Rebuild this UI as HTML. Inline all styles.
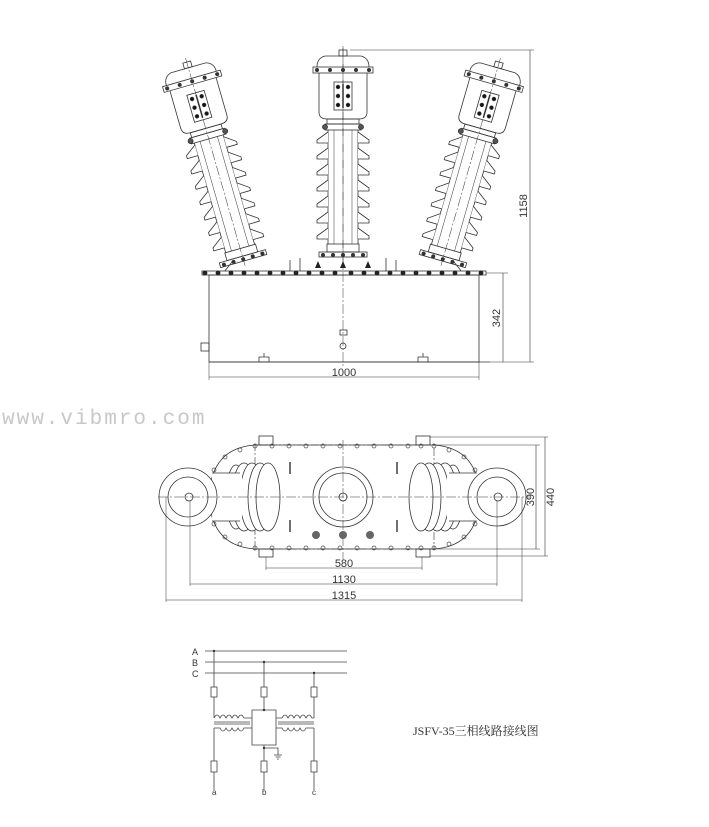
<!DOCTYPE html>
<html><head><meta charset="utf-8"><style>
html,body{margin:0;padding:0;background:#fff;width:709px;height:827px;overflow:hidden}
svg{display:block}
text{font-family:"Liberation Sans",sans-serif;fill:#333}
</style></head><body>
<svg width="709" height="827" viewBox="0 0 709 827" xmlns="http://www.w3.org/2000/svg">
<defs>
<g id="ins" fill="none" stroke="#333" stroke-width="0.8">
  <rect x="-24" y="-6" width="48" height="5" fill="#fff"/>
  <g fill="#333"><circle cx="-20" cy="-3" r="1.6"/><circle cx="-10" cy="-3" r="1.6"/><circle cx="0" cy="-3" r="1.6"/><circle cx="10" cy="-3" r="1.6"/><circle cx="20" cy="-3" r="1.6"/></g>
  <rect x="-16" y="-14" width="32" height="8"/>
  <path d="M-15,-14 V-128 M15,-14 V-128"/>
  <path d="M-15,-126 L-26,-118 V-115 H-15 M-15,-110 L-26,-102 V-99 H-15 M-15,-94 L-26,-86 V-83 H-15 M-15,-78 L-26,-70 V-67 H-15 M-15,-62 L-26,-54 V-51 H-15 M-15,-46 L-26,-38 V-35 H-15 M-15,-30 L-26,-22 V-19 H-15" fill="#fff"/>
  <path d="M15,-126 L26,-118 V-115 H15 M15,-110 L26,-102 V-99 H15 M15,-94 L26,-86 V-83 H15 M15,-78 L26,-70 V-67 H15 M15,-62 L26,-54 V-51 H15 M15,-46 L26,-38 V-35 H15 M15,-30 L26,-22 V-19 H15" fill="#fff"/>
  <line x1="-9" y1="-14" x2="-9" y2="-128" stroke-width="0.5"/><line x1="9" y1="-14" x2="9" y2="-128" stroke-width="0.5"/>
  <rect x="-18" y="-134" width="36" height="6"/>
  <rect x="-16" y="-139" width="32" height="5"/>
  <circle cx="-18" cy="-131" r="2.5" fill="#555"/><circle cx="18" cy="-131" r="2.5" fill="#555"/>
  <path d="M-24,-185 V-146 Q-24,-139 -16,-139 H16 Q24,-139 24,-146 V-185"/>
  <rect x="-30" y="-191" width="60" height="6" fill="#fff"/>
  <g fill="#333"><circle cx="-26" cy="-188" r="1.6"/><circle cx="-13" cy="-188" r="1.6"/><circle cx="0" cy="-188" r="1.6"/><circle cx="13" cy="-188" r="1.6"/><circle cx="26" cy="-188" r="1.6"/></g>
  <path d="M-26,-191 Q-26,-200 -18,-202 H18 Q26,-200 26,-191"/>
  <rect x="-4" y="-208" width="8" height="6"/>
  <rect x="-9" y="-176" width="18" height="28"/>
  <g fill="#111"><circle cx="-5" cy="-171" r="1.8"/><circle cx="5" cy="-171" r="1.8"/><circle cx="-5" cy="-162" r="1.8"/><circle cx="5" cy="-162" r="1.8"/><circle cx="-5" cy="-153" r="1.8"/><circle cx="5" cy="-153" r="1.8"/></g>
  <line x1="0" y1="-174" x2="0" y2="-150" stroke-width="1.5"/>
  <line x1="0" y1="-212" x2="0" y2="4" stroke-dasharray="10,2,2,2" stroke-width="0.5"/>
</g>
</defs>

<use href="#ins" transform="translate(343,258)"/>
<use href="#ins" transform="translate(244,262) rotate(-16)"/>
<use href="#ins" transform="translate(442,262) rotate(16)"/>

<g fill="none" stroke="#333" stroke-width="0.8">
  <line x1="300" y1="258" x2="300" y2="272"/><line x1="386" y1="258" x2="386" y2="272"/>
  <line x1="290" y1="260" x2="290" y2="272"/><line x1="396" y1="260" x2="396" y2="272"/>
  <line x1="232" y1="262" x2="224" y2="272"/><line x1="454" y1="262" x2="462" y2="272"/>
  <rect x="202" y="271" width="284" height="4" fill="#fff"/>
  <rect x="209" y="275" width="270" height="87"/>
  <line x1="209" y1="362" x2="490" y2="362"/>
  <path d="M259,362 v-5 h10 v5 M264,357 v-4 M418,362 v-5 h10 v5 M423,357 v-4"/>
  <rect x="201" y="343" width="8" height="8"/>
  <rect x="340" y="330" width="7" height="5"/>
  <circle cx="343" cy="346" r="3"/>
  <line x1="343" y1="48" x2="343" y2="368" stroke-dasharray="10,2,2,2" stroke-width="0.5"/>
  <line x1="350" y1="50" x2="534" y2="50" stroke-width="0.5"/>
  <line x1="490" y1="362" x2="534" y2="362" stroke-width="0.5"/>
  <line x1="486" y1="273" x2="508" y2="273" stroke-width="0.5"/>
  <line x1="530" y1="50" x2="530" y2="362" stroke-width="0.6"/>
  <line x1="503" y1="273" x2="503" y2="362" stroke-width="0.6"/>
  <line x1="209" y1="362" x2="209" y2="380" stroke-width="0.5"/>
  <line x1="479" y1="362" x2="479" y2="380" stroke-width="0.5"/>
  <line x1="209" y1="377" x2="479" y2="377" stroke-width="0.6"/>
</g>
<g fill="#222">
  <circle cx="205" cy="273" r="2.4"/><circle cx="218" cy="273" r="2.4"/><circle cx="231" cy="273" r="2.4"/><circle cx="244" cy="273" r="2.4"/><circle cx="257" cy="273" r="2.4"/><circle cx="270" cy="273" r="2.4"/><circle cx="283" cy="273" r="2.4"/><circle cx="296" cy="273" r="2.4"/><circle cx="309" cy="273" r="2.4"/><circle cx="322" cy="273" r="2.4"/><circle cx="335" cy="273" r="2.4"/><circle cx="351" cy="273" r="2.4"/><circle cx="364" cy="273" r="2.4"/><circle cx="377" cy="273" r="2.4"/><circle cx="390" cy="273" r="2.4"/><circle cx="403" cy="273" r="2.4"/><circle cx="416" cy="273" r="2.4"/><circle cx="429" cy="273" r="2.4"/><circle cx="442" cy="273" r="2.4"/><circle cx="455" cy="273" r="2.4"/><circle cx="468" cy="273" r="2.4"/><circle cx="481" cy="273" r="2.4"/>
  <path d="M315,268 l3,-7 l3,7z M340,268 l3,-7 l3,7z M365,268 l3,-7 l3,7z"/>
</g>
<text x="530" y="206" font-size="11" transform="rotate(-90 530 206)" text-anchor="middle" dy="-3">1158</text>
<text x="503" y="318" font-size="11" transform="rotate(-90 503 318)" text-anchor="middle" dy="-3">342</text>
<text x="344" y="376" font-size="11" text-anchor="middle">1000</text>

<text x="2" y="424" font-size="21" style="fill:#c8c8c8;font-family:'Liberation Mono',monospace" letter-spacing="2">www.vibmro.com</text>

<g fill="none" stroke="#333" stroke-width="0.8">
  <path d="M255,445 H434 Q478,448 480,497 Q478,546 434,549 H255 Q211,546 209,497 Q211,448 255,445 Z"/>
  <rect x="255" y="445" width="179" height="104" stroke-dasharray="8,2,2,2" stroke-width="0.6"/>
  <rect x="259" y="436" width="14" height="9"/><rect x="416" y="436" width="14" height="9"/>
  <rect x="259" y="549" width="14" height="8"/><rect x="416" y="549" width="14" height="8"/>
  <ellipse cx="236" cy="497" rx="10" ry="32" fill="#fff"/>
  <ellipse cx="244" cy="497" rx="12" ry="34" fill="#fff"/>
  <ellipse cx="252" cy="497" rx="12" ry="34" fill="#fff"/>
  <ellipse cx="260" cy="497" rx="12" ry="34" fill="#fff"/>
  <ellipse cx="268" cy="497" rx="12" ry="34" fill="#fff"/>
  <rect x="212" y="473" width="30" height="48" fill="#fff" stroke="none"/>
  <line x1="212" y1="473" x2="240" y2="473"/><line x1="212" y1="521" x2="240" y2="521"/>
  <circle cx="188" cy="497" r="29" fill="#fff"/><circle cx="188" cy="497" r="20"/><circle cx="189" cy="497" r="4"/>
  <ellipse cx="453" cy="497" rx="10" ry="32" fill="#fff"/>
  <ellipse cx="445" cy="497" rx="12" ry="34" fill="#fff"/>
  <ellipse cx="437" cy="497" rx="12" ry="34" fill="#fff"/>
  <ellipse cx="429" cy="497" rx="12" ry="34" fill="#fff"/>
  <ellipse cx="421" cy="497" rx="12" ry="34" fill="#fff"/>
  <rect x="447" y="473" width="30" height="48" fill="#fff" stroke="none"/>
  <line x1="449" y1="473" x2="477" y2="473"/><line x1="449" y1="521" x2="477" y2="521"/>
  <circle cx="497" cy="497" r="29" fill="#fff"/><circle cx="497" cy="497" r="20"/><circle cx="498" cy="497" r="4"/>
  <circle cx="343" cy="497" r="30"/><circle cx="343" cy="497" r="24"/><circle cx="343" cy="497" r="4"/>
  <path d="M290,462 v12 M397,462 v12 M290,520 v12 M397,520 v12" stroke-width="1.4"/>
  <line x1="158" y1="497" x2="530" y2="497" stroke-dasharray="10,2,2,2" stroke-width="0.5"/>
  <line x1="343" y1="440" x2="343" y2="560" stroke-dasharray="10,2,2,2" stroke-width="0.5"/>
  <line x1="434" y1="445" x2="540" y2="445" stroke-width="0.5"/><line x1="434" y1="549" x2="540" y2="549" stroke-width="0.5"/>
  <line x1="430" y1="437" x2="548" y2="437" stroke-width="0.5"/><line x1="430" y1="556" x2="548" y2="556" stroke-width="0.5"/>
  <line x1="536" y1="445" x2="536" y2="549" stroke-width="0.6"/>
  <line x1="545" y1="437" x2="545" y2="556" stroke-width="0.6"/>
  <line x1="266" y1="557" x2="266" y2="570" stroke-width="0.5"/><line x1="422" y1="557" x2="422" y2="570" stroke-width="0.5"/>
  <line x1="266" y1="568" x2="422" y2="568" stroke-width="0.6"/>
  <line x1="190" y1="501" x2="190" y2="586" stroke-width="0.5"/><line x1="497" y1="501" x2="497" y2="586" stroke-width="0.5"/>
  <line x1="190" y1="584" x2="497" y2="584" stroke-width="0.6"/>
  <line x1="166" y1="497" x2="166" y2="602" stroke-width="0.5"/><line x1="522" y1="497" x2="522" y2="602" stroke-width="0.5"/>
  <line x1="166" y1="600" x2="522" y2="600" stroke-width="0.6"/>
</g>
<g fill="none" stroke="#444" stroke-width="0.7">
  <circle cx="255" cy="446" r="2"/><circle cx="272" cy="446" r="2"/><circle cx="289" cy="446" r="2"/><circle cx="306" cy="446" r="2"/><circle cx="323" cy="446" r="2"/><circle cx="340" cy="446" r="2"/><circle cx="357" cy="446" r="2"/><circle cx="374" cy="446" r="2"/><circle cx="391" cy="446" r="2"/><circle cx="408" cy="446" r="2"/><circle cx="421" cy="446" r="2"/><circle cx="434" cy="446" r="2"/>
  <circle cx="255" cy="548" r="2"/><circle cx="272" cy="548" r="2"/><circle cx="289" cy="548" r="2"/><circle cx="306" cy="548" r="2"/><circle cx="323" cy="548" r="2"/><circle cx="340" cy="548" r="2"/><circle cx="357" cy="548" r="2"/><circle cx="374" cy="548" r="2"/><circle cx="391" cy="548" r="2"/><circle cx="408" cy="548" r="2"/><circle cx="421" cy="548" r="2"/><circle cx="434" cy="548" r="2"/>
  <circle cx="240" cy="450" r="2"/><circle cx="225" cy="457" r="2"/><circle cx="214" cy="470" r="2"/><circle cx="214" cy="524" r="2"/><circle cx="225" cy="537" r="2"/><circle cx="240" cy="544" r="2"/>
  <circle cx="449" cy="450" r="2"/><circle cx="464" cy="457" r="2"/><circle cx="475" cy="470" r="2"/><circle cx="475" cy="524" r="2"/><circle cx="464" cy="537" r="2"/><circle cx="449" cy="544" r="2"/>
</g>
<g fill="#666"><circle cx="316" cy="535" r="4"/><circle cx="343" cy="535" r="4"/><circle cx="370" cy="535" r="4"/></g>
<text x="536" y="497" font-size="11" transform="rotate(-90 536 497)" text-anchor="middle" dy="-2">390</text>
<text x="545" y="497" font-size="11" transform="rotate(-90 545 497)" text-anchor="middle" dy="9">440</text>
<text x="344" y="567" font-size="11" text-anchor="middle">580</text>
<text x="344" y="583" font-size="11" text-anchor="middle">1130</text>
<text x="344" y="599" font-size="11" text-anchor="middle">1315</text>

<g fill="none" stroke="#444" stroke-width="0.8">
  <line x1="205" y1="651" x2="347" y2="651"/><line x1="205" y1="662" x2="347" y2="662"/><line x1="205" y1="673" x2="347" y2="673"/>
  <line x1="214" y1="651" x2="214" y2="718"/><line x1="264" y1="662" x2="264" y2="710"/><line x1="314" y1="673" x2="314" y2="718"/>
  <rect x="211" y="687" width="6" height="10" fill="#fff"/><rect x="261" y="687" width="6" height="10" fill="#fff"/><rect x="311" y="687" width="6" height="10" fill="#fff"/>
  <path d="M214,718 q3,-6 6,0 q3,-6 6,0 q3,-6 6,0 q3,-6 6,0 q3,-6 6,0 H252"/>
  <path d="M276,718 H282 q3,-6 6,0 q3,-6 6,0 q3,-6 6,0 q3,-6 6,0 q3,-6 6,0 H314"/>
  <line x1="214" y1="722" x2="250" y2="722"/><line x1="214" y1="724" x2="250" y2="724"/>
  <line x1="278" y1="722" x2="314" y2="722"/><line x1="278" y1="724" x2="314" y2="724"/>
  <path d="M214,728 H220 q3,6 6,0 q3,6 6,0 q3,6 6,0 q3,6 6,0 H252"/>
  <path d="M276,728 H282 q3,6 6,0 q3,6 6,0 q3,6 6,0 q3,6 6,0 H314"/>
  <path d="M252,710 H276 V745 H252 Z"/>
  <line x1="214" y1="728" x2="214" y2="790"/><line x1="264" y1="745" x2="264" y2="790"/><line x1="314" y1="728" x2="314" y2="790"/>
  <rect x="211" y="761" width="6" height="11" fill="#fff"/><rect x="261" y="761" width="6" height="11" fill="#fff"/><rect x="311" y="761" width="6" height="11" fill="#fff"/>
  <path d="M264,748 H278 V755 M274,755 H282 M275.5,757 H280.5 M277,759 H279"/>
</g>
<g fill="#333"><circle cx="214" cy="651" r="1.2"/><circle cx="264" cy="662" r="1.2"/><circle cx="314" cy="673" r="1.2"/><circle cx="264" cy="710" r="1.2"/><circle cx="264" cy="748" r="1.2"/></g>
<text x="192" y="655" font-size="9">A</text><text x="192" y="666" font-size="9">B</text><text x="192" y="677" font-size="9">C</text>
<text x="212" y="795" font-size="8">a</text><text x="262" y="795" font-size="8">b</text><text x="312" y="795" font-size="8">c</text>
<text x="413" y="735" font-size="12" style="font-family:'Liberation Serif','Noto Serif CJK SC',serif">JSFV-35三相线路接线图</text>
</svg>
</body></html>
